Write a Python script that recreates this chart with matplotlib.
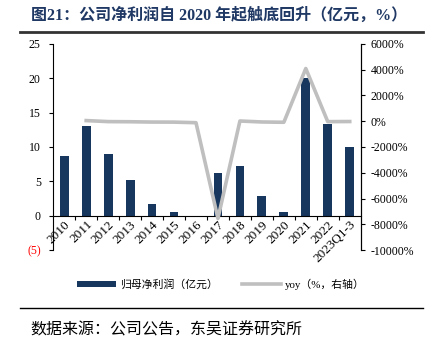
import numpy as np
import matplotlib.pyplot as plt
from matplotlib.ticker import FixedLocator

plt.rcParams['font.family'] = ['Liberation Serif', 'Noto Sans CJK SC']

# ---------------- Data ----------------
years = ['2010', '2011', '2012', '2013', '2014', '2015', '2016', '2017',
         '2018', '2019', '2020', '2021', '2022', '2023Q1-3']
profit = [8.7, 13.0, 9.0, 5.2, 1.75, 0.5, -0.08, 6.2,
          7.2, 2.9, 0.48, 20.1, 13.4, 10.0]
yoy = [np.nan, 49, -31, -42, -66, -71, -116, -7550,
       16, -60, -83, 4090, -33, -25]

left_ticks = [-5, 0, 5, 10, 15, 20, 25]
left_labels = ['(5)', '0', '5', '10', '15', '20', '25']
right_ticks = [-10000, -8000, -6000, -4000, -2000, 0, 2000, 4000, 6000]

bar_color = '#17375E'
line_color = '#BFBFBF'

# ---------------- Plot ----------------
fig = plt.figure(figsize=(4.33, 3.43), dpi=100)
ax = fig.add_axes([0.123, 0.271, 0.71, 0.601])
ax2 = ax.twinx()

x = np.arange(len(years))
ax.bar(x, profit, width=0.4, color=bar_color, zorder=2, label='归母净利润（亿元）')
ax2.plot(x, yoy, color=line_color, lw=2.6, zorder=3, label='yoy（%，右轴）')

ax.set_xlim(-0.5, len(years) - 0.5)
ax.set_ylim(-5, 25)
ax2.set_ylim(-10000, 6000)

ax.spines['top'].set_visible(False)
ax2.spines['top'].set_visible(False)
ax.spines['bottom'].set_position(('data', 0))
ax2.spines['bottom'].set_visible(False)
ax2.spines['left'].set_visible(False)

# x ticks: marks between bars, labels under bars
ax.xaxis.set_major_locator(FixedLocator(x[:-1] + 0.5))
ax.xaxis.set_minor_locator(FixedLocator(x))
ax.set_xticklabels([], minor=False)
ax.set_xticklabels(years, minor=True, rotation=45, ha='right',
                   rotation_mode='anchor', fontsize=9.5)
ax.tick_params(axis='x', which='major', length=3, direction='out')
ax.tick_params(axis='x', which='minor', length=0, pad=2)

ax.set_yticks(left_ticks)
ax.set_yticklabels(left_labels, fontsize=8.5)
ax.get_yticklabels()[0].set_color('red')
ax.tick_params(axis='y', length=3, direction='out', pad=6)

ax2.set_yticks(right_ticks)
ax2.set_yticklabels([f'{t}%' for t in right_ticks], fontsize=8.5)
ax2.tick_params(axis='y', length=3, direction='out', pad=4)

# legend
h1, l1 = ax.get_legend_handles_labels()
h2, l2 = ax2.get_legend_handles_labels()
fig.legend(h1 + h2, l1 + l2, loc='center', bbox_to_anchor=(0.51, 0.172), ncol=2,
           frameon=False, handlelength=3.6, handleheight=0.5,
           columnspacing=2.2, handletextpad=0.4,
           prop={'family': ['Liberation Serif', 'Noto Sans CJK SC'], 'size': 7.8})

# title, rules, source
fig.text(0.072, 0.955, '图21：公司净利润自 2020 年起触底回升（亿元，%）',
         fontsize=11.5, fontweight='bold', color='#1F3864', va='center',
         family=['Liberation Serif', 'Noto Sans CJK SC'])
fig.add_artist(plt.Line2D([0.046, 0.977], [0.908, 0.908], color='#333333', lw=2))
fig.add_artist(plt.Line2D([0.046, 0.977], [0.102, 0.102], color='black', lw=1))
fig.text(0.07, 0.038, '数据来源：公司公告，东吴证券研究所', fontsize=11.5, va='center',
         family=['Noto Sans CJK SC'])

plt.savefig('out.png', dpi=100)
